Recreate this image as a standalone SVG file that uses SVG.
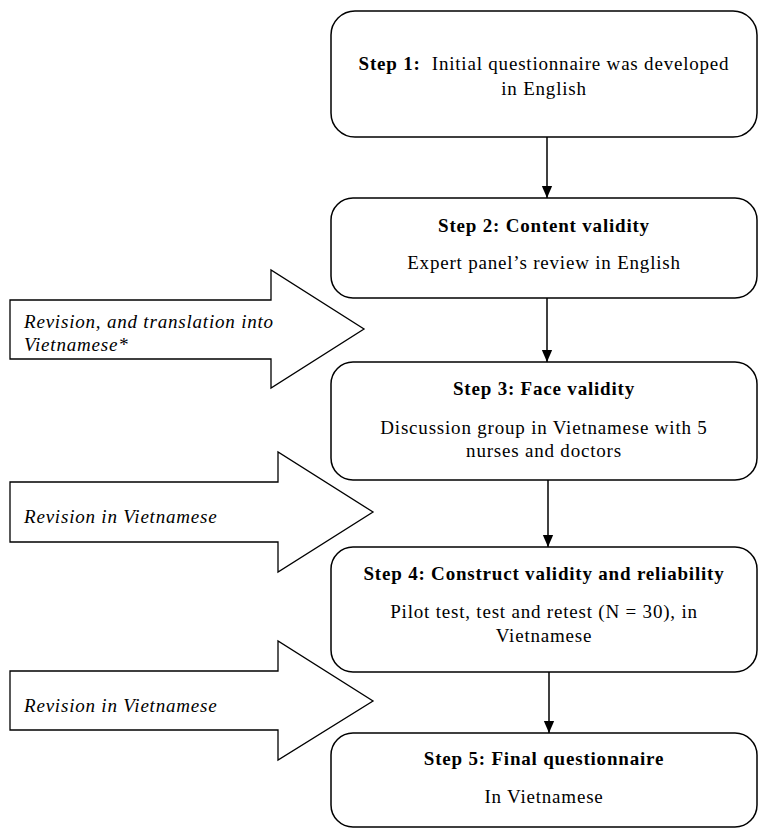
<svg xmlns="http://www.w3.org/2000/svg" width="758" height="829" viewBox="0 0 758 829">
<defs>
<style>
.box{fill:#fff;stroke:#000;stroke-width:1.5}
.big{fill:#fff;stroke:#000;stroke-width:1.3}
.t{font-family:"Liberation Serif","Times New Roman",serif;font-size:19px;letter-spacing:0.8px;fill:#000;text-anchor:middle}
.b{font-weight:bold}
.i{font-family:"Liberation Serif","Times New Roman",serif;font-size:19px;letter-spacing:0.8px;font-style:italic;fill:#000}
.c{stroke:#000;stroke-width:1.5;fill:none}
</style>
<marker id="ah2" markerWidth="12" markerHeight="14" refX="14" refY="6" orient="auto" markerUnits="userSpaceOnUse" viewBox="0 0 14 12">
<path d="M0,0 L14,6 L0,12 Z" fill="#000"/>
</marker>
</defs>
<rect width="758" height="829" fill="#fff"/>

<g id="side-arrows">
<g id="arrow-a">
<polygon class="big" points="10,300 271,300 271,270 364,329 271,388 271,359 10,359"/>
<text class="i" x="24" y="328">Revision, and translation into</text>
<text class="i" x="24" y="351">Vietnamese*</text>
</g>
<g id="arrow-b">
<polygon class="big" points="10,482 278,482 278,452 373,512 278,572 278,542 10,542"/>
<text class="i" x="24" y="523">Revision in Vietnamese</text>
</g>
<g id="arrow-c">
<polygon class="big" points="10,671 278,671 278,641 373,701 278,760 278,730 10,730"/>
<text class="i" x="24" y="712">Revision in Vietnamese</text>
</g>
</g>

<g id="connectors">
<line class="c" x1="547" y1="137" x2="547" y2="198" marker-end="url(#ah2)"/>
<line class="c" x1="547" y1="298" x2="547" y2="362" marker-end="url(#ah2)"/>
<line class="c" x1="548" y1="480" x2="548" y2="547" marker-end="url(#ah2)"/>
<line class="c" x1="549" y1="672" x2="549" y2="733" marker-end="url(#ah2)"/>
</g>

<g id="step1">
<rect class="box" x="331" y="11" width="426" height="126" rx="24"/>
<text class="t" x="544" y="70" xml:space="preserve"><tspan class="b">Step 1:</tspan>  Initial questionnaire was developed</text>
<text class="t" x="544" y="95">in English</text>
</g>
<g id="step2">
<rect class="box" x="331" y="198" width="426" height="100" rx="22"/>
<text class="t b" x="544" y="232">Step 2: Content validity</text>
<text class="t" x="544" y="269">Expert panel’s review in English</text>
</g>
<g id="step3">
<rect class="box" x="331" y="362" width="426" height="118" rx="22"/>
<text class="t b" x="544" y="395">Step 3: Face validity</text>
<text class="t" x="544" y="434">Discussion group in Vietnamese with 5</text>
<text class="t" x="544" y="457">nurses and doctors</text>
</g>
<g id="step4">
<rect class="box" x="331" y="547" width="426" height="125" rx="22"/>
<text class="t b" x="544" y="580">Step 4: Construct validity and reliability</text>
<text class="t" x="544" y="618">Pilot test, test and retest (N = 30), in</text>
<text class="t" x="544" y="642">Vietnamese</text>
</g>
<g id="step5">
<rect class="box" x="331" y="733" width="426" height="94" rx="22"/>
<text class="t b" x="544" y="765">Step 5: Final questionnaire</text>
<text class="t" x="544" y="803">In Vietnamese</text>
</g>
</svg>
